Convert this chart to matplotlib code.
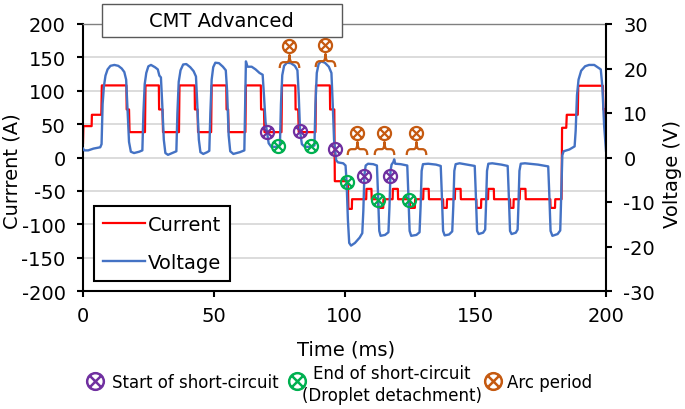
import numpy as np
import matplotlib
matplotlib.use("Agg")
import matplotlib.pyplot as plt
from matplotlib.path import Path
from matplotlib.lines import Line2D
from matplotlib.patches import Rectangle

plt.rcParams['font.family'] = ['DejaVu Sans']
plt.rcParams['axes.unicode_minus'] = False

# ---------------- data ----------------
current_t = [0.0, 0.15, 3.3, 3.4, 7.0, 7.2, 16.6, 16.7, 17.6, 17.8,
             23.7, 23.9, 29.0, 29.1, 30.4, 30.6,
             36.7, 36.9, 42.7, 42.8, 43.8, 44.0,
             49.0, 49.2, 54.8, 54.9, 55.5, 55.7,
             62.1, 62.3, 68.0, 68.1, 69.2, 69.4,
             75.9, 76.1, 81.2, 81.3, 82.3, 82.5,
             88.9, 89.1, 94.4, 94.5, 96.1, 96.3,
             101.3, 101.5, 102.8, 102.9, 108.3, 108.4, 110.3, 110.4,
             112.8, 112.9, 114.8, 114.9, 118.4, 118.5, 120.4, 120.5,
             125.0, 125.1, 126.9, 127.0, 130.1, 130.2, 132.2, 132.3,
             137.7, 137.8, 139.1, 139.2, 142.2, 142.3, 144.4, 144.5,
             150.4, 150.5, 152.2, 152.3, 154.9, 155.0, 157.1, 157.2,
             163.3, 163.4, 164.6, 164.7, 167.0, 167.1, 169.2, 169.3,
             178.7, 178.8, 180.5, 180.6, 183.0, 183.2, 184.8, 185.0,
             189.2, 189.4, 198.8, 199.0, 199.5, 199.7, 200.0]
current_a = [22, 47, 47, 64, 64, 108, 108, 72, 72, 38,
             38, 108, 108, 72, 72, 38,
             38, 108, 108, 72, 72, 38,
             38, 108, 108, 72, 72, 38,
             38, 108, 108, 72, 72, 38,
             38, 108, 108, 72, 72, 38,
             38, 108, 108, 72, 72, -35.5,
             -35.5, -77, -77, -62.5, -62.5, -47, -47, -62.5,
             -62.5, -75.5, -75.5, -62.5, -62.5, -47, -47, -62.5,
             -62.5, -75.5, -75.5, -62.5, -62.5, -47, -47, -62.5,
             -62.5, -75.5, -75.5, -62.5, -62.5, -47, -47, -62.5,
             -62.5, -75.5, -75.5, -62.5, -62.5, -47, -47, -62.5,
             -62.5, -75.5, -75.5, -62.5, -62.5, -47, -47, -62.5,
             -62.5, -75.5, -75.5, -62.5, -62.5, 44.5, 44.5, 64,
             64, 107.5, 107.5, 72, 72, 38, 38]

voltage_t = [0.0, 0.5, 2.0, 4.0, 6.6, 7.1, 7.5, 8.0, 8.6, 9.4, 10.5, 12.0, 13.5, 14.8, 15.8, 16.5, 17.0, 17.6, 18.3, 19.5, 21.5, 22.7,
             23.1, 23.6, 24.2, 25.0, 26.0, 27.5, 28.6, 29.2, 29.8, 30.3, 30.9, 31.5, 32.5, 34.5, 35.7,
             36.1, 36.6, 37.3, 38.3, 39.5, 41.0, 42.3, 43.2, 43.7, 44.3, 44.9, 46.0, 47.5, 48.3,
             48.7, 49.2, 49.8, 50.6, 52.0, 53.5, 54.6, 55.1, 55.7, 56.3, 57.5, 60.0, 61.7,
             62.0, 62.3, 62.9, 64.5, 66.0, 67.5, 68.7, 69.2, 69.8, 70.4, 71.0, 72.0, 74.0, 75.3,
             75.7, 76.2, 76.9, 78.0, 79.5, 81.0, 82.0, 82.5, 83.0, 83.7, 84.8, 87.0, 88.5,
             88.9, 89.4, 90.1, 91.0, 92.5, 94.0, 95.0, 95.5, 96.0, 96.4, 96.8, 97.5, 99.5, 100.4,
             100.8, 101.3, 101.8, 102.5, 104.0, 105.8, 106.8, 107.2, 107.6, 108.1, 109.0, 111.0, 112.4,
             112.8, 113.3, 113.8, 115.5, 116.8, 117.2, 117.6, 118.0, 118.7, 119.0, 119.4, 121.5, 124.0,
             124.4, 124.9, 125.5, 127.5, 128.7, 129.1, 129.5, 130.0, 132.0, 135.0, 136.8,
             137.2, 137.7, 138.3, 140.0, 141.2, 141.6, 142.0, 142.5, 144.0, 147.0, 149.8,
             150.2, 150.7, 151.3, 153.0, 153.8, 154.1, 154.5, 155.0, 156.5, 160.0, 162.4,
             162.8, 163.3, 163.9, 165.5, 166.2, 166.5, 166.9, 167.4, 169.0, 174.0, 177.9,
             178.3, 178.8, 179.5, 181.5, 182.5, 182.9, 183.3, 183.8, 186.0, 188.0,
             188.4, 188.9, 189.5, 190.5, 192.0, 193.5, 195.5, 197.0, 198.0, 198.6, 199.3, 200.0]
voltage_v = [2.0, 1.6, 1.6, 2.0, 2.3, 3.0, 12.0, 16.0, 18.4, 19.8, 20.6, 20.8, 20.6, 20.0, 19.2, 17.5, 11.0, 3.5, 1.3, 1.0, 1.3, 1.6,
             10.0, 16.5, 19.0, 20.5, 20.8, 20.3, 19.8, 18.4, 18.0, 12.0, 4.0, 1.0, 0.6, 1.1, 1.4,
             10.0, 17.0, 19.6, 20.9, 21.0, 20.3, 19.4, 18.2, 12.0, 4.0, 1.2, 0.8, 1.2, 1.5,
             10.0, 17.5, 20.3, 21.3, 21.2, 20.4, 19.6, 15.0, 5.0, 1.4, 0.8, 1.2, 1.6,
             12.0, 21.6, 20.4, 20.4, 19.8, 19.0, 18.6, 14.0, 8.0, 5.6, 3.2, 2.4, 2.4, 2.7,
             12.0, 18.5, 20.6, 21.3, 21.2, 20.6, 19.6, 14.0, 6.0, 3.0, 2.4, 2.4, 2.7,
             12.0, 19.0, 21.0, 21.6, 21.3, 20.4, 19.0, 12.0, 4.0, 1.8, -0.6, -1.1, -1.3, -1.8,
             -5.5, -14.0, -19.2, -19.8, -19.2, -18.0, -17.0, -12.0, -4.0, -1.8, -1.4, -1.5, -1.8,
             -8.0, -16.5, -17.6, -17.4, -16.8, -11.0, -3.0, -1.6, -1.0, -0.4, -1.4, -1.5, -1.8,
             -8.0, -16.5, -17.6, -17.4, -16.8, -11.0, -3.0, -1.5, -1.4, -1.6, -1.9,
             -8.0, -16.5, -17.5, -17.3, -16.6, -11.0, -3.0, -1.5, -1.3, -1.6, -1.9,
             -8.0, -16.5, -17.2, -16.9, -16.2, -11.0, -3.0, -1.4, -1.3, -1.6, -1.9,
             -8.0, -16.5, -17.2, -16.9, -16.2, -11.0, -3.0, -1.4, -1.3, -1.6, -2.0,
             -8.0, -16.5, -17.6, -17.2, -16.4, -8.0, 0.5, 1.4, 1.8, 2.5,
             6.0, 14.0, 17.5, 19.5, 20.5, 20.8, 20.8, 20.2, 19.8, 16.0, 7.0, 1.5]

sc_start_t = [70.4, 83.0, 96.2, 107.5, 117.4]
sc_start_a = [38.5, 39, 13, -27.5, -27.5]
sc_end_t = [74.7, 87.3, 100.8, 112.7, 124.8]
sc_end_a = [17, 17, -37, -63, -63]
arc_t = [78.9, 92.5, 104.8, 115.0, 127.2]
arc_a = [167.5, 169, 36, 36, 36]

current_ticks = [-200, -150, -100, -50, 0, 50, 100, 150, 200]
voltage_ticks = [-30, -20, -10, 0, 10, 20, 30]
time_ticks = [0, 50, 100, 150, 200]

# ---------------- colours ----------------
RED = '#ff0000'
BLUE = '#4472c4'
PURPLE = '#7030a0'
GREEN = '#00b050'
ORANGE = '#c55a11'

# ---------------- marker paths ----------------
d = np.sqrt(0.5)
cross = Path([(-d, -d), (d, d), (-d, d), (d, -d)],
             [Path.MOVETO, Path.LINETO, Path.MOVETO, Path.LINETO])
circle_x = Path.make_compound_path(Path.unit_circle(), cross)
brace = Path([(-1.5, -3.3), (-1.5, -2.4), (-0.9, -2.4), (-0.4, -2.4),
              (0, -2.4), (0, -1.3), (0, -2.4), (0.4, -2.4),
              (0.9, -2.4), (1.5, -2.4), (1.5, -3.3)],
             [Path.MOVETO, Path.CURVE3, Path.CURVE3, Path.LINETO,
              Path.CURVE3, Path.CURVE3, Path.CURVE3, Path.CURVE3,
              Path.LINETO, Path.CURVE3, Path.CURVE3])
arc_marker = Path.make_compound_path(circle_x, brace)
arc_scale = np.abs(arc_marker.vertices).max()

MS = 9.4
MEW = 1.6

# ---------------- figure ----------------
W, H = 685, 410
fig = plt.figure(figsize=(W / 100, H / 100), dpi=100)
ax = fig.add_axes([83 / W, 118 / H, 523 / W, 267 / H])
ax2 = ax.twinx()

ax.plot(current_t, current_a, color=RED, lw=1.6, zorder=2)
ax2.plot(voltage_t, voltage_v, color=BLUE, lw=1.7, zorder=2)

ax2.plot(sc_start_t, sc_start_a, transform=ax.transData, linestyle='none',
         marker=circle_x, ms=MS, mfc='none', mec=PURPLE, mew=MEW, zorder=5)
ax2.plot(sc_end_t, sc_end_a, transform=ax.transData, linestyle='none',
         marker=circle_x, ms=MS, mfc='none', mec=GREEN, mew=MEW, zorder=5)
ax2.plot(arc_t, arc_a, transform=ax.transData, linestyle='none',
         marker=arc_marker, ms=MS * arc_scale, mfc='none', mec=ORANGE, mew=MEW, zorder=5)

ax.set_xlim(0, 200)
ax.set_ylim(-200, 200)
ax2.set_ylim(-30, 30)
ax.set_xticks(time_ticks)
ax.set_yticks(current_ticks)
ax2.set_yticks(voltage_ticks)

ax.grid(axis='y', color='#d9d9d9', lw=1.3)
ax.set_axisbelow(True)

for s in ['left', 'bottom']:
    ax.spines[s].set_color('black')
    ax.spines[s].set_linewidth(1.5)
ax.spines['right'].set_visible(False)
ax.spines['top'].set_color('#808080')
ax.spines['top'].set_linewidth(1.0)
for s in ['left', 'bottom', 'top']:
    ax2.spines[s].set_visible(False)
ax2.spines['right'].set_color('black')
ax2.spines['right'].set_linewidth(1.5)

ax.tick_params(axis='y', direction='out', length=4.5, width=1.5, pad=8, labelsize=14)
ax.tick_params(axis='x', direction='out', length=4.5, width=1.5, pad=6, labelsize=14)
ax2.tick_params(axis='y', direction='out', length=4.5, width=1.5, pad=8, labelsize=14)

ax.set_ylabel('Currrent (A)', fontsize=14, va='center', ha='center')
ax.yaxis.set_label_coords(-0.1367, 0.451)
ax2.set_ylabel('Voltage (V)', fontsize=14, va='center', ha='center', rotation=90)
ax2.yaxis.set_label_coords(1.128, 0.442)
ax.set_xlabel('Time (ms)', fontsize=14, va='center', ha='center')
ax.xaxis.set_label_coords(0.5023, -0.2172)

# title box
fig.add_artist(Rectangle((101.7 / W, 1 - 38.3 / H), 240 / W, 33.3 / H,
                         transform=fig.transFigure, facecolor='white',
                         edgecolor='#595959', lw=1.0, zorder=10))
fig.text(221.7 / W, 1 - 21.7 / H, 'CMT Advanced', ha='center', va='center',
         fontsize=14, zorder=11)

# current / voltage legend
handles = [Line2D([], [], color=RED, lw=1.6), Line2D([], [], color=BLUE, lw=1.7)]
leg = ax2.legend(handles, ['Current', 'Voltage'], loc='upper left',
                 bbox_to_anchor=(94 / W, 1 - 207 / H), bbox_transform=fig.transFigure,
                 borderaxespad=0, fontsize=14, handlelength=2.16, handletextpad=0.15,
                 labelspacing=1.0, borderpad=0.45, fancybox=False, framealpha=1,
                 edgecolor='black')
leg.get_frame().set_linewidth(1.5)
leg.set_zorder(20)

# bottom marker legend
MS_LEG = 12
for (xm, col) in [(94.7, PURPLE), (296.7, GREEN), (493.3, ORANGE)]:
    fig.add_artist(Line2D([xm / W], [1 - 381.7 / H], transform=fig.transFigure,
                          linestyle='none', marker=circle_x, ms=MS_LEG, mfc='none',
                          mec=col, mew=1.8))
fig.text(111.7 / W, 1 - 382.7 / H, 'Start of short-circuit', ha='left', va='center', fontsize=12)
fig.text(392 / W, 1 - 385 / H, 'End of short-circuit\n(Droplet detachment)', ha='center',
         va='center', multialignment='center', fontsize=12, linespacing=1.35)
fig.text(506.7 / W, 1 - 382.7 / H, 'Arc period', ha='left', va='center', fontsize=12)

fig.savefig('out.png', dpi=100)
